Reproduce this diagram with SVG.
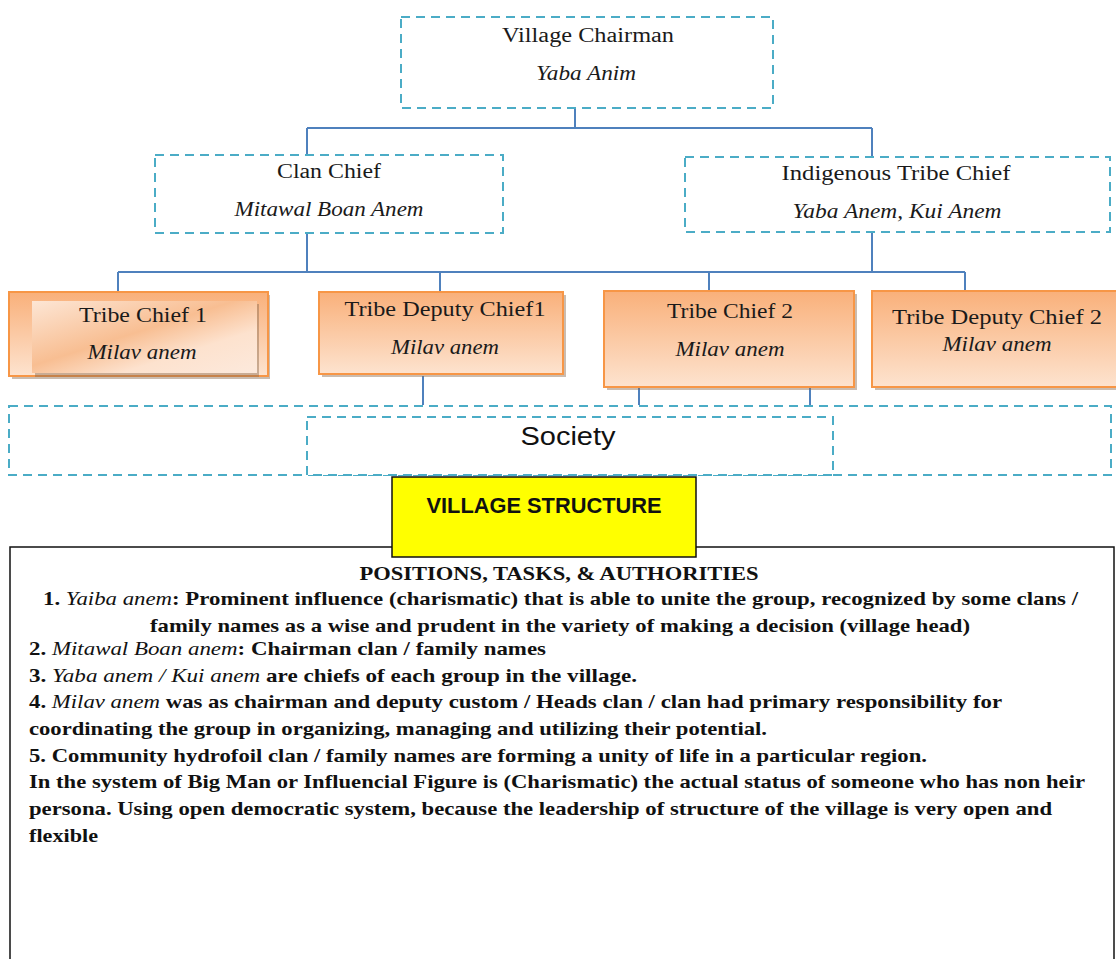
<svg xmlns="http://www.w3.org/2000/svg" width="1116" height="959" viewBox="0 0 1116 959">
<style>
.dash{fill:#fff;stroke:#4BACC6;stroke-width:2;stroke-dasharray:9 6}
.dashn{fill:none;stroke:#4BACC6;stroke-width:2;stroke-dasharray:9 6}
.conn{fill:none;stroke:#4F81BD;stroke-width:2}
.orange{fill:url(#og);stroke:#F79646;stroke-width:2}
.shadow{fill:#8a6a50;opacity:0.45}
.lbl{font-family:"Liberation Serif",serif;font-size:20px;fill:#1a1a1a;text-anchor:middle}
.it{font-style:italic}
.body{font-family:"Liberation Serif",serif;font-size:19px;font-weight:bold;fill:#111}
.bi{font-style:italic;font-weight:normal}
</style>
<defs>
<linearGradient id="og" x1="0" y1="0" x2="0" y2="1">
<stop offset="0" stop-color="#F9B07A"/>
<stop offset="1" stop-color="#FDE3CF"/>
</linearGradient>
<linearGradient id="ig" x1="0" y1="0" x2="1" y2="1">
<stop offset="0" stop-color="#FDE6D5"/>
<stop offset="0.45" stop-color="#F8BE92"/>
<stop offset="0.7" stop-color="#FDE2CE"/>
<stop offset="1" stop-color="#FCE9DC"/>
</linearGradient>
</defs>

<g id="connectors">
<path class="conn" d="M575,108 V128 M307,128 H872 M307,128 V155 M872,128 V157"/>
<path class="conn" d="M307,233 V272 M872,232 V272 M118,272 H965 M118,272 V292 M440,272 V292 M709,272 V291 M965,272 V291"/>
<path class="conn" d="M423,376 V405 M639,387 V405 M810,387 V405"/>
</g>

<g id="village-chairman">
<rect class="dash" x="401" y="17" width="372" height="91"/>
<text class="lbl" x="588" y="42" textLength="172" lengthAdjust="spacingAndGlyphs">Village Chairman</text>
<text class="lbl it" x="586" y="80" textLength="100" lengthAdjust="spacingAndGlyphs">Yaba Anim</text>
</g>

<g id="clan-chief">
<rect class="dash" x="155" y="155" width="348" height="78"/>
<text class="lbl" x="329" y="178" textLength="104" lengthAdjust="spacingAndGlyphs">Clan Chief</text>
<text class="lbl it" x="329" y="216" textLength="189" lengthAdjust="spacingAndGlyphs">Mitawal Boan Anem</text>
</g>

<g id="indigenous-tribe-chief">
<rect class="dash" x="685" y="157" width="425" height="75"/>
<text class="lbl" x="896" y="180" textLength="229" lengthAdjust="spacingAndGlyphs">Indigenous  Tribe Chief</text>
<text class="lbl it" x="897" y="218" textLength="209" lengthAdjust="spacingAndGlyphs">Yaba Anem, Kui Anem</text>
</g>

<g id="tribe-chief-1">
<rect class="shadow" x="12" y="295" width="258" height="84"/>
<rect class="orange" x="9" y="292" width="259" height="84"/>
<rect class="shadow" x="35" y="304" width="224" height="73"/>
<rect x="32" y="301" width="225" height="72" fill="url(#ig)"/>
<text class="lbl" x="143" y="322" textLength="128" lengthAdjust="spacingAndGlyphs">Tribe Chief 1</text>
<text class="lbl it" x="142" y="359" textLength="109" lengthAdjust="spacingAndGlyphs">Milav  anem</text>
</g>

<g id="tribe-deputy-chief-1">
<rect class="shadow" x="322" y="295" width="244" height="82"/>
<rect class="orange" x="319" y="292" width="244" height="82"/>
<text class="lbl" x="445" y="316" textLength="201" lengthAdjust="spacingAndGlyphs">Tribe Deputy Chief1</text>
<text class="lbl it" x="445" y="354" textLength="108" lengthAdjust="spacingAndGlyphs">Milav  anem</text>
</g>

<g id="tribe-chief-2">
<rect class="shadow" x="607" y="294" width="250" height="96"/>
<rect class="orange" x="604" y="291" width="250" height="96"/>
<text class="lbl" x="730" y="318" textLength="126" lengthAdjust="spacingAndGlyphs">Tribe Chief 2</text>
<text class="lbl it" x="730" y="356" textLength="109" lengthAdjust="spacingAndGlyphs">Milav  anem</text>
</g>

<g id="tribe-deputy-chief-2">
<rect class="shadow" x="875" y="294" width="245" height="96"/>
<rect class="orange" x="872" y="291" width="250" height="96"/>
<text class="lbl" x="997" y="324" textLength="210" lengthAdjust="spacingAndGlyphs">Tribe Deputy Chief 2</text>
<text class="lbl it" x="997" y="351" textLength="109" lengthAdjust="spacingAndGlyphs">Milav  anem</text>
</g>

<g id="society">
<rect class="dashn" x="9" y="406" width="1102" height="69"/>
<rect class="dash" x="307" y="417" width="526" height="58"/>
<text x="568" y="445" font-family="'Liberation Sans',Arial,sans-serif" font-size="26" fill="#111" text-anchor="middle" textLength="95" lengthAdjust="spacingAndGlyphs">Society</text>
</g>

<g id="positions-box">
<rect x="10" y="547" width="1104" height="420" fill="#fff" stroke="#111" stroke-width="1.5"/>
<text class="body" x="559" y="580" text-anchor="middle" textLength="399" lengthAdjust="spacingAndGlyphs">POSITIONS,  TASKS,  &amp; AUTHORITIES</text>
<text class="body" x="43" y="605" textLength="1035" lengthAdjust="spacingAndGlyphs">1. <tspan class="bi">Yaiba anem</tspan>: Prominent influence (charismatic) that is able to unite the group, recognized by some clans /</text>
<text class="body" x="150" y="632" textLength="820" lengthAdjust="spacingAndGlyphs">family names as a wise and prudent in the variety of making a decision (village head)</text>
<text class="body" x="29" y="655" textLength="517" lengthAdjust="spacingAndGlyphs">2. <tspan class="bi">Mitawal Boan anem</tspan>: Chairman clan / family names</text>
<text class="body" x="29" y="682" textLength="608" lengthAdjust="spacingAndGlyphs">3. <tspan class="bi">Yaba anem / Kui anem</tspan> are chiefs of each group in the village.</text>
<text class="body" x="29" y="708" textLength="973" lengthAdjust="spacingAndGlyphs">4. <tspan class="bi">Milav anem</tspan> was as chairman and deputy custom / Heads clan / clan had primary  responsibility  for</text>
<text class="body" x="29" y="735" textLength="738" lengthAdjust="spacingAndGlyphs">coordinating the group in organizing, managing and utilizing their potential.</text>
<text class="body" x="29" y="762" textLength="898" lengthAdjust="spacingAndGlyphs">5. Community  hydrofoil clan / family names are forming a unity of life in a particular region.</text>
<text class="body" x="29" y="788" textLength="1056" lengthAdjust="spacingAndGlyphs">In the system of Big Man or Influencial Figure is (Charismatic) the actual status of someone who has non heir</text>
<text class="body" x="29" y="815" textLength="1023" lengthAdjust="spacingAndGlyphs">persona. Using open democratic system, because the leadership of structure of the village is very open and</text>
<text class="body" x="29" y="842" textLength="69" lengthAdjust="spacingAndGlyphs">flexible</text>
</g>

<g id="village-structure">
<rect x="392" y="477" width="304" height="80" fill="#FFFF00" stroke="#111" stroke-width="1.5"/>
<text x="544" y="513" font-family="'Liberation Sans',Arial,sans-serif" font-size="22" font-weight="bold" fill="#111" text-anchor="middle" textLength="235" lengthAdjust="spacingAndGlyphs">VILLAGE STRUCTURE</text>
</g>
</svg>
